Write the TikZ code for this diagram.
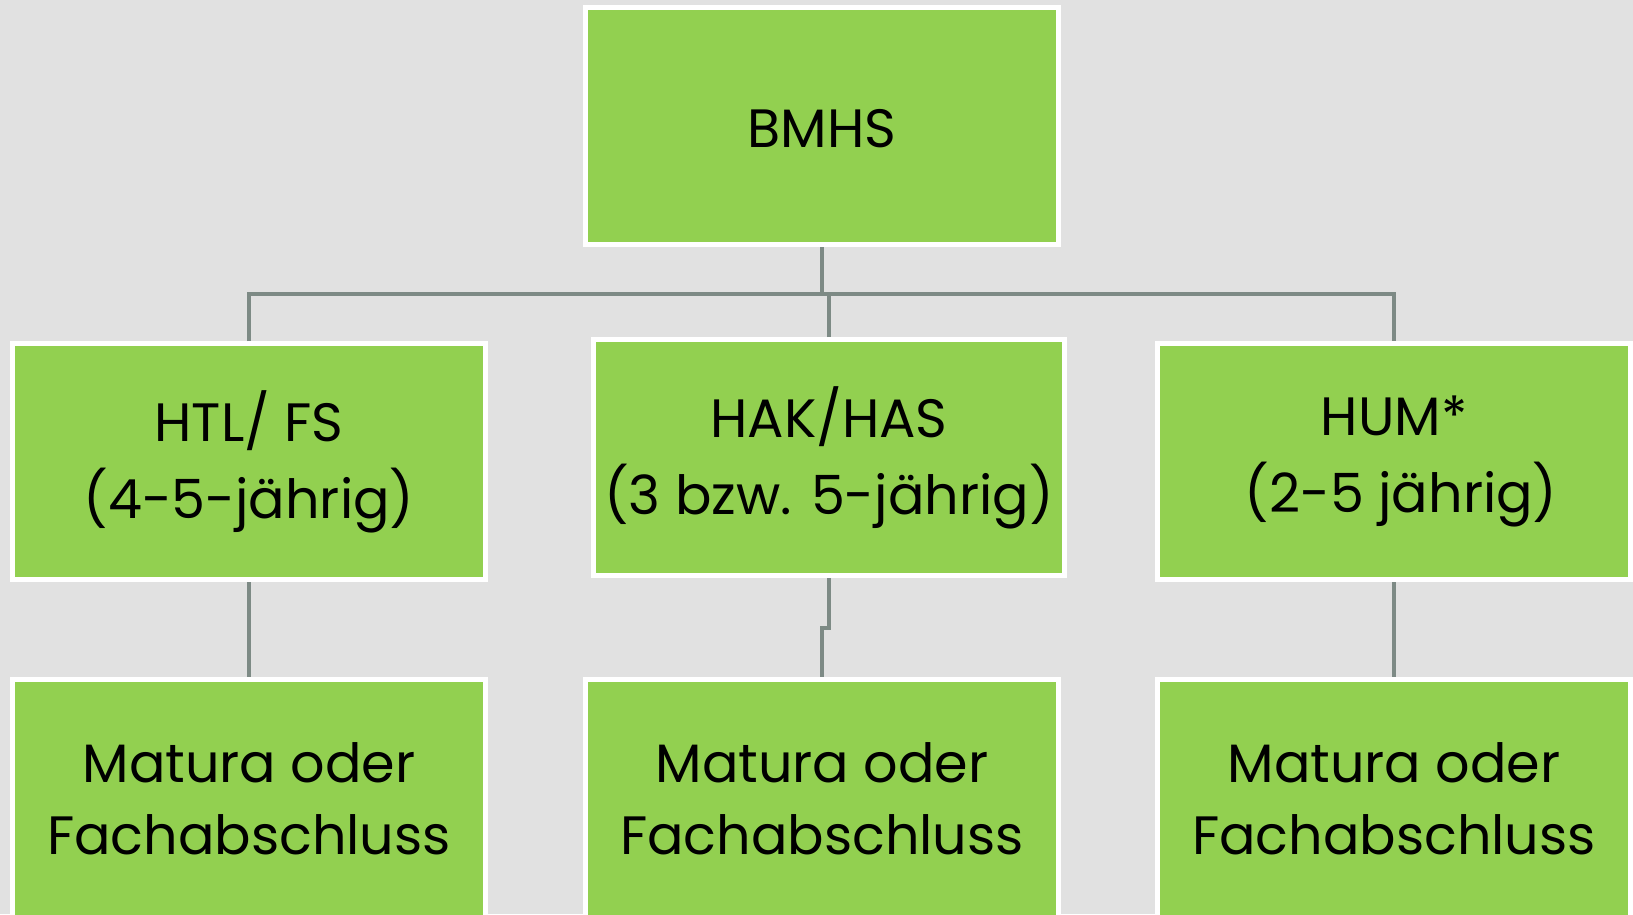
\documentclass[tikz,border=0pt]{standalone}
\usepackage{fontspec}
\setmainfont{Poppins}
\definecolor{boxgreen}{HTML}{92D050}
\definecolor{slide}{HTML}{E1E1E1}
\definecolor{linkgrey}{HTML}{7D8A85}
\tikzset{
	schoolbox/.style={fill=boxgreen, draw=white, line width=5pt, minimum width=473pt, minimum height=236pt, align=center, font=\fontsize{54}{72}\selectfont, text=black},
	typebox/.style={schoolbox, font=\fontsize{54}{77}\selectfont},
	link/.style={draw=linkgrey, line width=4.5pt}
}
\begin{document}
\begin{tikzpicture}[x=1pt,y=-1pt]
		\useasboundingbox (0,0) rectangle (1633,914);
		\fill [slide] (0,0) rectangle (1633,914);
		\clip (0,0) rectangle (1633,914);

		\node [schoolbox, minimum width=473pt, minimum height=237pt, text height=44pt] (bmhs) at (822,126) {BMHS};

		\node [typebox] (htl) at (249,461.5) {HTL/ FS\\(4-5-jährig)};
\node [typebox, minimum width=471pt] (hak) at (829,457.5) {HAK/HAS\\(3 bzw. 5-jährig)};
\node [typebox] (hum) at (1394,461.5) {HUM*\\\ (2-5 jährig)};

		\node [schoolbox, minimum height=240pt] (abschlussa) at (249,799) {Matura oder\\Fachabschluss};
\node [schoolbox, minimum height=240pt] (abschlussb) at (822,799) {Matura oder\\Fachabschluss};
\node [schoolbox, minimum height=240pt] (abschlussc) at (1394,799) {Matura oder\\Fachabschluss};

		\coordinate (busleft) at (249,294);
		\coordinate (busright) at (1394,294);
		\coordinate (jog) at (829,628);

		\draw [link] (bmhs.south) -- (bmhs.south |- busleft);
		\draw [link] (htl.north) -- (busleft) -- (busright) -- (hum.north);
		\draw [link] (hak.north) -- (hak.north |- busleft);
		\draw [link] (htl.south) -- (abschlussa.north);
\draw [link] (hak.south) -- (jog) -| (abschlussb.north);
\draw [link] (hum.south) -- (abschlussc.north);

		\end{tikzpicture}
\end{document}
